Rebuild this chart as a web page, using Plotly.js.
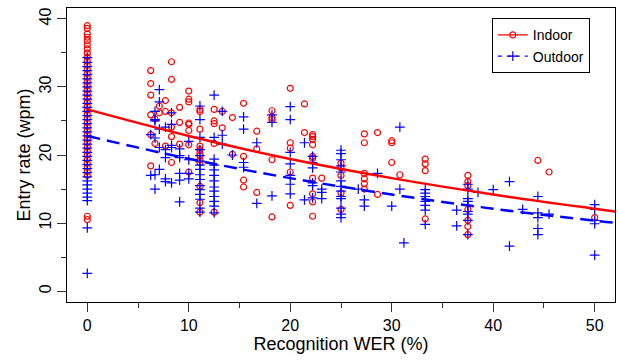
<!DOCTYPE html>
<html>
<head>
<meta charset="utf-8">
<script src="https://cdn.plot.ly/plotly-3.0.1.min.js"></script>
<style>html,body{margin:0;padding:0;background:#fff;}#chart{width:618px;height:360px;}</style>
</head>
<body>
<div id="chart"></div>
<script>
// Indoor: WER values (%) and entry rates (wpm) observed at each WER
const indoorWER = [0, 6.25, 6.67, 7.1, 7.7, 8.3, 9.1, 10, 11.1, 12.5, 13.3, 14.3, 15.4, 16.7, 18.2, 20, 21.4, 22.2, 23.1, 25, 27.3, 28.6, 30, 30.8, 33.3, 37.5, 44.4, 45.5, 50];
const indoorRates = [
  [39.0, 38.6, 37.8, 37.3, 36.8, 36.2, 35.6, 35.0, 34.4, 33.8, 33.2, 32.6, 32.0, 31.4, 30.8, 30.2, 29.6, 29.0, 28.4, 27.8, 27.2, 26.6, 26.0, 25.4, 24.8, 24.2, 23.6, 23.0, 22.4, 21.8, 21.2, 20.6, 20.0, 19.4, 18.8, 18.2, 17.6, 17.0, 11.0, 10.5],
  [32.4, 30.5, 28.8, 25.9, 23.0, 18.4],
  [25.3, 21.7],
  [27.2, 26.2],
  [28.0, 26.4, 21.3],
  [33.7, 31.1, 26.2, 24.1, 22.7, 18.9],
  [27.0, 24.8, 21.6],
  [29.4, 28.2, 27.8, 24.7, 24.5, 23.6, 21.5, 17.5],
  [26.7, 26.4, 23.8, 21.3, 20.8, 20.3, 19.9, 19.3, 18.9, 15.4, 13.0, 11.6],
  [26.7, 25.0, 24.6, 21.7, 11.6],
  [26.4, 24.0],
  [25.5, 20.1],
  [27.6, 19.8, 16.3, 15.3],
  [23.5, 20.9, 14.5],
  [26.5, 25.5, 25.2, 19.3, 10.9],
  [29.8, 21.8, 21.0, 17.5, 12.6],
  [27.5, 23.3],
  [23.0, 22.7, 22.3, 21.5, 19.8, 19.5, 16.6, 14.3, 13.1, 11.0],
  [16.6],
  [18.8, 18.1, 17.0, 14.4, 12.0],
  [23.1, 21.8, 17.3, 16.5, 15.8, 15.0],
  [23.3, 14.2],
  [22.1, 21.8, 18.9],
  [17.1],
  [19.4, 18.7, 17.7, 10.6],
  [17.0, 16.1, 15.5, 12.0, 10.4, 9.5, 8.3],
  [19.2],
  [17.5],
  [10.8]
];

// Outdoor
const outdoorWER = [0, 6.25, 6.67, 7.1, 7.7, 8.3, 9.1, 10, 11.1, 12.5, 13.3, 14.3, 15.4, 16.7, 18.2, 20, 21.4, 22.2, 23.1, 25, 26.7, 27.3, 28.6, 30, 30.8, 31.2, 33.3, 36.4, 37.5, 38.5, 40, 41.6, 42.9, 44.4, 45.5, 50];
const outdoorRates = [
  [34.3, 33.6, 33.0, 32.4, 31.8, 31.2, 30.6, 30.0, 29.4, 28.8, 28.2, 27.6, 27.0, 26.4, 25.8, 25.2, 24.6, 24.0, 23.4, 22.8, 22.2, 21.6, 21.0, 20.4, 19.8, 19.2, 18.6, 18.0, 17.4, 16.8, 16.2, 15.6, 15.0, 14.4, 13.8, 13.3, 9.3, 2.6],
  [23.0, 17.0],
  [26.4, 25.2, 25.0, 22.5, 17.1, 15.0],
  [29.6, 27.8, 23.8, 21.1, 17.9],
  [24.1, 20.8, 19.6, 16.5, 16.1],
  [26.2, 24.5, 21.4, 21.1, 15.9],
  [20.9, 19.9, 19.6, 17.3, 16.3, 13.1],
  [22.0, 19.3, 17.3, 16.5],
  [27.2, 25.2, 22.6, 20.8, 19.9, 19.1, 18.5, 17.9, 17.1, 16.4, 15.5, 14.9, 14.2, 13.5, 12.2, 11.6],
  [28.8, 22.6, 19.4, 18.5, 17.8, 17.0, 16.2, 15.3, 14.7, 13.9, 13.2, 12.5, 11.5],
  [26.4, 22.9, 21.6],
  [20.0],
  [25.6, 23.8, 18.9, 18.2],
  [21.8, 12.9],
  [25.9, 24.8, 14.0],
  [27.1, 25.2, 20.4, 18.7, 17.0, 15.7, 14.3],
  [21.8, 13.4],
  [19.8, 18.9, 18.1, 15.9, 15.5, 13.7],
  [15.0, 14.5, 13.6],
  [20.7, 20.2, 19.3, 18.4, 17.5, 16.2, 15.4, 14.7, 13.9, 13.6, 12.2, 11.3, 10.8],
  [15.0],
  [13.4, 12.5],
  [17.3],
  [12.5],
  [24.1, 15.0],
  [7.1],
  [14.9, 14.4, 13.9, 13.2, 12.6, 11.9, 9.8],
  [11.9, 9.6],
  [15.7, 15.0, 13.6, 13.2, 12.6, 11.7, 11.3, 10.4, 8.3],
  [14.5],
  [14.9],
  [16.1, 6.6],
  [12.0],
  [13.9, 11.5, 10.8, 9.2, 8.3],
  [11.3],
  [12.7, 12.0, 10.4, 9.9, 5.3]
];

// Fitted curves
const fitWER = [0, 10, 20, 30, 40, 50, 52];
const indoorFit = [26.7, 22.8, 19.4, 16.6, 14.2, 12.1, 11.7];
const outdoorFit = [22.8, 19.45, 16.6, 14.2, 12.1, 10.35, 10.05];

const seriesNames = ['Indoor', 'Outdoor'];
const xTickVals = [0, 10, 20, 30, 40, 50];
const yTickVals = [0, 10, 20, 30, 40];

function flatten(werList, rateList) {
  const xs = [], ys = [];
  werList.forEach((w, i) => rateList[i].forEach(r => { xs.push(w); ys.push(r); }));
  return {xs, ys};
}
const ind = flatten(indoorWER, indoorRates);
const out = flatten(outdoorWER, outdoorRates);

const RED = '#ff0000', BLUE = '#0000ff';
const FONT = 'Liberation Sans, Arial, Helvetica, sans-serif';

const traces = [
  {x: ind.xs, y: ind.ys, type: 'scatter', mode: 'markers', showlegend: false,
   marker: {symbol: 'circle-open', size: 6, color: RED, line: {width: 1.2, color: RED}}},
  {x: out.xs, y: out.ys, type: 'scatter', mode: 'markers', showlegend: false,
   marker: {symbol: 'cross-thin-open', size: 7, color: BLUE, line: {width: 1.2, color: BLUE}}},
  {x: fitWER, y: indoorFit, type: 'scatter', mode: 'lines', showlegend: false,
   line: {color: RED, width: 2.5, shape: 'spline'}},
  {x: fitWER, y: outdoorFit, type: 'scatter', mode: 'lines', showlegend: false,
   line: {color: BLUE, width: 2.5, shape: 'spline', dash: '13px,7px'}},
  {x: [null], y: [null], type: 'scatter', mode: 'lines+markers', name: seriesNames[0],
   line: {color: RED, width: 1.2},
   marker: {symbol: 'circle-open', size: 6, color: RED, line: {width: 1.2, color: RED}}},
  {x: [null], y: [null], type: 'scatter', mode: 'lines+markers', name: seriesNames[1],
   line: {color: BLUE, width: 1.2, dash: '4px,5px'},
   marker: {symbol: 'cross-thin-open', size: 7, color: BLUE, line: {width: 1.2, color: BLUE}}}
];

const layout = {
  width: 618, height: 360,
  margin: {l: 67, r: 3, t: 8, b: 58, pad: 0},
  paper_bgcolor: '#fff', plot_bgcolor: '#fff',
  font: {family: FONT, size: 16, color: '#000'},
  showlegend: true,
  legend: {x: 0.954, y: 0.965, xanchor: 'right', yanchor: 'top',
           bgcolor: '#fff', bordercolor: '#000', borderwidth: 1,
           font: {family: FONT, size: 14, color: '#000'}, tracegroupgap: 0, itemwidth: 30},
  xaxis: {
    range: [-2, 52], showgrid: false, zeroline: false,
    showline: true, mirror: true, linecolor: '#000', linewidth: 1,
    tickmode: 'array', tickvals: xTickVals, ticks: 'outside', ticklen: 9, tickwidth: 1, tickcolor: '#333',
    minor: {dtick: 5, tick0: 0, ticks: 'outside', ticklen: 5, tickcolor: '#333', tickwidth: 1, showgrid: false},
    tickfont: {family: FONT, size: 16, color: '#000'},
    title: {text: 'Recognition WER (%)', font: {family: FONT, size: 18, color: '#000'}, standoff: 2},
    automargin: false
  },
  yaxis: {
    range: [-1.6, 41.6], showgrid: false, zeroline: false,
    showline: true, mirror: true, linecolor: '#000', linewidth: 1,
    tickmode: 'array', tickvals: yTickVals, ticks: 'outside', ticklen: 9, tickwidth: 1, tickcolor: '#333',
    minor: {dtick: 5, tick0: 0, ticks: 'outside', ticklen: 5, tickcolor: '#333', tickwidth: 1, showgrid: false},
    tickangle: -90,
    tickfont: {family: FONT, size: 16, color: '#000'},
    title: {text: 'Entry rate (wpm)', font: {family: FONT, size: 18, color: '#000'}, standoff: 1},
    automargin: false
  }
};

Plotly.newPlot('chart', traces, layout, {displayModeBar: false, staticPlot: true});
</script>
</body>
</html>
